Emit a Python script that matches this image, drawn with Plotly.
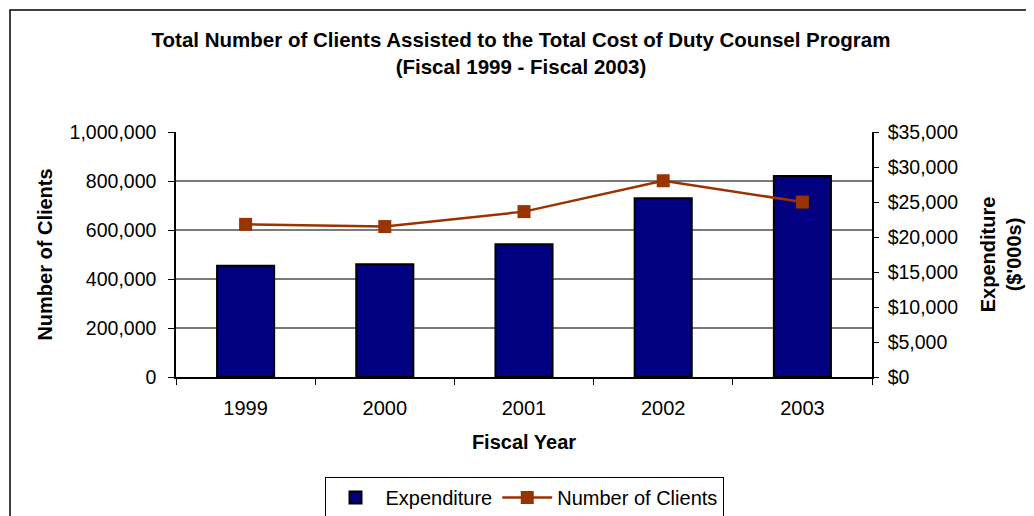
import plotly.graph_objects as go

years = ["1999", "2000", "2001", "2002", "2003"]
expenditure = [15900, 16100, 18950, 25550, 28700]      # $'000s
clients = [623000, 614000, 675000, 801000, 714000]

FONT = "Liberation Sans, Arial, sans-serif"

# page has an 8px body margin, so figure coords = page coords - 8
OFF = 8
W, H = 1034 - OFF, 516 - OFF
L = 176 - OFF
T = 132 - OFF
R = W - (872 - OFF)
B = H - (377 - OFF)
pw, ph = W - L - R, H - T - B

def px2paper_x(px):
    return (px - OFF - L) / pw

def px2paper_y(py):
    return (H - B - (py - OFF)) / ph

fig = go.Figure()
fig.add_trace(go.Bar(
    x=years, y=expenditure, name="Expenditure", yaxis="y",
    marker=dict(color="#000080", line=dict(color="#000000", width=2)),
))
fig.add_trace(go.Scatter(
    x=years, y=clients, name="Number of Clients", yaxis="y2",
    mode="lines+markers",
    line=dict(color="#993300", width=2.5),
    marker=dict(symbol="square", size=13, color="#993300"),
))

fig.update_layout(
    width=W, height=H,
    margin=dict(l=L, r=R, t=T, b=B, pad=0, autoexpand=False),
    paper_bgcolor="white", plot_bgcolor="white",
    font=dict(family=FONT, size=20, color="black"),
    bargap=0.59,
    title=dict(
        text="<b>Total Number of Clients Assisted to the Total Cost of Duty Counsel Program<br>(Fiscal 1999 - Fiscal 2003)</b>",
        x=0.5, xref="container", xanchor="center",
        y=1 - 39 / H, yanchor="top",
        font=dict(family=FONT, size=20.5, color="black"),
    ),
    xaxis=dict(
        type="category", automargin=False,
        showline=True, linecolor="black", linewidth=1.5,
        ticks="outside", ticklen=6, tickcolor="black", tickwidth=1,
        tickson="boundaries", ticklabelstandoff=12,
        showgrid=False,
        title=dict(text="<b>Fiscal Year</b>", standoff=17, font=dict(size=20)),
        tickfont=dict(size=20),
    ),
    yaxis=dict(
        side="right", automargin=False,
        range=[0, 35000], dtick=5000,
        tickprefix="$", tickformat=",d",
        showline=True, linecolor="black", linewidth=1.5,
        ticks="outside", ticklen=5, tickcolor="black",
        ticklabelstandoff=5,
        showgrid=False, zeroline=False,
        title=dict(text="<b>Expenditure<br>($'000s)</b>", standoff=24, font=dict(size=20)),
        tickfont=dict(size=19.5),
    ),
    yaxis2=dict(
        overlaying="y", side="left", automargin=False,
        range=[0, 1000000], dtick=200000, tickformat=",d",
        showline=True, linecolor="black", linewidth=1.5,
        ticks="outside", ticklen=6, tickcolor="black",
        ticklabelstandoff=8,
        showgrid=True, gridcolor="#7a7a7a", gridwidth=1.5,
        zeroline=False,
        title=dict(text="<b>Number of Clients</b>", standoff=12, font=dict(size=20)),
        tickfont=dict(size=19.5),
    ),
    legend=dict(
        orientation="h", x=0.5, xanchor="center",
        y=px2paper_y(477), yanchor="top",
        bordercolor="black", borderwidth=1,
        font=dict(size=20), traceorder="normal",
        itemwidth=50,
    ),
    showlegend=True,
)

# outer chart frame (left and top edges visible in the reference)
fig.add_shape(
    type="rect", xref="paper", yref="paper", layer="below",
    x0=px2paper_x(10), x1=px2paper_x(1060),
    y0=px2paper_y(540), y1=px2paper_y(10),
    line=dict(color="black", width=1.5), fillcolor="rgba(0,0,0,0)",
)

fig.write_html("out.html")
